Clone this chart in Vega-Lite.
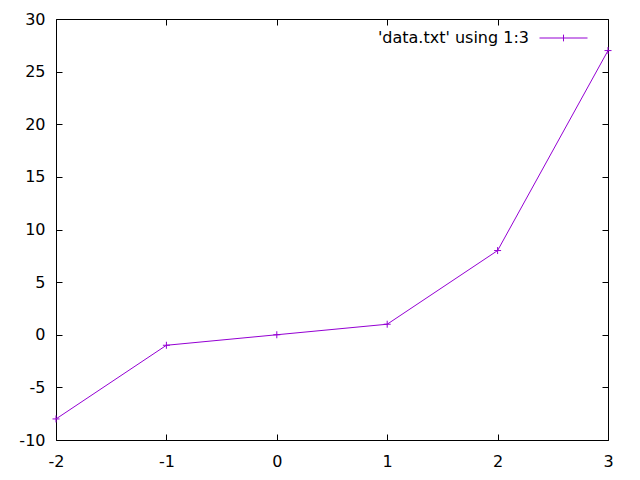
{
  "$schema": "https://vega.github.io/schema/vega-lite/v6.json",
  "width": 552,
  "height": 421,
  "autosize": {"type": "none"},
  "padding": {"left": 56, "top": 19, "right": 32, "bottom": 40},
  "background": "white",
  "config": {
    "font": "DejaVu Sans",
    "view": {"stroke": null},
    "axis": {
      "grid": false,
      "domainColor": "black",
      "domainWidth": 1,
      "tickColor": "black",
      "tickWidth": 1,
      "labelFont": "DejaVu Sans",
      "labelFontSize": 16,
      "labelColor": "black",
      "title": null
    }
  },
  "data": {
    "values": [
      {"x": -2, "y": -8, "series": "'data.txt' using 1:3"},
      {"x": -1, "y": -1, "series": "'data.txt' using 1:3"},
      {"x": 0, "y": 0, "series": "'data.txt' using 1:3"},
      {"x": 1, "y": 1, "series": "'data.txt' using 1:3"},
      {"x": 2, "y": 8, "series": "'data.txt' using 1:3"},
      {"x": 3, "y": 27, "series": "'data.txt' using 1:3"}
    ]
  },
  "layer": [
    {
      "mark": {"type": "line", "strokeWidth": 1, "clip": true},
      "encoding": {
        "x": {"field": "x", "type": "quantitative",
          "scale": {"domain": [-2, 3], "nice": false, "zero": false},
          "axis": {"orient": "bottom", "values": [-2, -1, 0, 1, 2, 3], "tickSize": -6, "labelPadding": 19, "labelFlush": false, "labelExpr": "'' + datum.value"}},
        "y": {"field": "y", "type": "quantitative",
          "scale": {"domain": [-10, 30], "nice": false, "zero": false},
          "axis": {"orient": "left", "values": [-10, -5, 0, 5, 10, 15, 20, 25, 30], "tickSize": -6, "labelPadding": 17, "labelFlush": false, "labelExpr": "'' + datum.value"}},
        "color": {"field": "series", "type": "nominal",
          "scale": {"range": ["#9400d3"]},
          "legend": {
            "title": null,
            "orient": "none",
            "legendX": 483,
            "legendY": -5.5,
            "symbolType": "M-1,0H1M0,-0.14V0.14",
            "symbolSize": 2304,
            "symbolStrokeWidth": 1,
            "symbolFillColor": "transparent",
            "symbolStrokeColor": "#9400d3",
            "symbolOpacity": 1,
            "labelAlign": "right",
            "labelOffset": -59,
            "labelFontSize": 16,
            "labelFont": "DejaVu Sans",
            "labelColor": "black",
            "labelLimit": 400
          }}
      }
    },
    {
      "mark": {"type": "point", "shape": "M-1,0H1M0,-1V1", "size": 49, "filled": false, "strokeWidth": 1, "color": "#9400d3", "opacity": 1},
      "encoding": {
        "x": {"field": "x", "type": "quantitative",
          "axis": {"orient": "top", "values": [-2, -1, 0, 1, 2, 3], "tickSize": -6, "labels": false}},
        "y": {"field": "y", "type": "quantitative",
          "axis": {"orient": "right", "values": [-10, -5, 0, 5, 10, 15, 20, 25, 30], "tickSize": -6, "labels": false}}
      }
    }
  ],
  "resolve": {"axis": {"x": "independent", "y": "independent"}}
}
